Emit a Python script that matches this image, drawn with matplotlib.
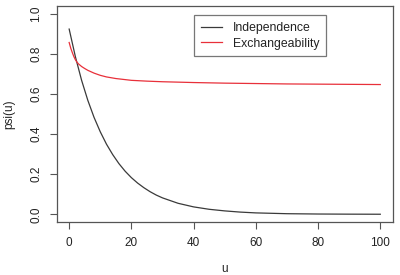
import matplotlib
matplotlib.use("Agg")
import matplotlib.pyplot as plt

plt.rcParams['font.family'] = ['Liberation Sans', 'DejaVu Sans']

# Data
u_ind = [0, 2, 4, 6, 8, 10, 12, 14, 16, 18, 20, 22, 24, 26, 28, 30, 35, 40, 45, 50, 55, 60, 70, 80, 90, 100]
psi_ind = [0.925, 0.787, 0.669, 0.569, 0.484, 0.412, 0.350, 0.298, 0.253, 0.215, 0.183,
           0.156, 0.133, 0.113, 0.096, 0.082, 0.055, 0.037, 0.025, 0.017, 0.011, 0.007,
           0.003, 0.0014, 0.0007, 0.0003]

u_exc = [0, 0.5, 1, 1.5, 2, 2.5, 3, 4, 5, 6, 8, 10, 12, 15, 20, 25, 30, 40, 50, 60, 70, 80, 90, 100]
psi_exc = [0.858, 0.830, 0.808, 0.788, 0.772, 0.760, 0.751, 0.738, 0.728, 0.719, 0.705, 0.694,
           0.686, 0.678, 0.669, 0.665, 0.662, 0.658, 0.655, 0.653, 0.651, 0.650, 0.649, 0.648]

series_labels = ["Independence", "Exchangeability"]
x_ticks = [0, 20, 40, 60, 80, 100]
y_ticks = [0.0, 0.2, 0.4, 0.6, 0.8, 1.0]
x_label = "u"
y_label = "psi(u)"

fig = plt.figure(figsize=(4.0, 2.75), dpi=100)
ax = fig.add_axes([0.1418, 0.1916, 0.84, 0.7864])

ax.plot(u_ind, psi_ind, color='#3a3a3a', lw=0.9, label=series_labels[0])
ax.plot(u_exc, psi_exc, color='#e8303a', lw=0.9, label=series_labels[1])

ax.set_xlim(-4, 104)
ax.set_ylim(-0.04, 1.04)
ax.set_xticks(x_ticks)
ax.set_xticklabels([str(t) for t in x_ticks])
ax.set_yticks(y_ticks)
ax.set_yticklabels([f"{t:.1f}" for t in y_ticks], rotation=90, va='center')

for s in ax.spines.values():
    s.set_color('#555555')
    s.set_linewidth(0.9)

ax.tick_params(axis='both', direction='out', length=5, width=0.8, color='#555555',
               labelsize=8.5, labelcolor='#222222')
ax.tick_params(axis='x', pad=5.5)
ax.tick_params(axis='y', pad=5.5)

ax.set_xlabel(x_label, fontsize=8.5, color='#222222', labelpad=10.5)
ax.set_ylabel(y_label, fontsize=8.5, color='#222222', labelpad=10.5)

leg = ax.legend(loc='upper left', bbox_to_anchor=(0.4086, 0.958), borderaxespad=0,
                fontsize=8.8, frameon=True, fancybox=False, handlelength=1.7,
                handletextpad=0.9, borderpad=0.55, labelspacing=0.3)
leg.get_frame().set_edgecolor('#555555')
leg.get_frame().set_linewidth(0.9)
for t in leg.get_texts():
    t.set_color('#222222')

fig.savefig("out.png", dpi=100)
